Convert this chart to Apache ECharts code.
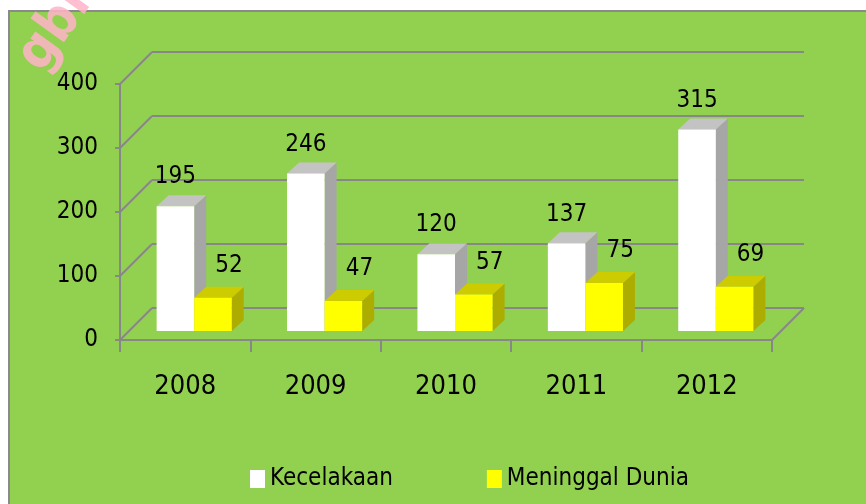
<!DOCTYPE html>
<html>
<head>
<meta charset="utf-8">
<script src="https://cdn.jsdelivr.net/npm/echarts@6/dist/echarts.min.js"></script>
<style>
  html, body { margin: 0; padding: 0; background: #fff; }
  #bg {
    position: absolute; left: 8px; top: 10px; right: 0; bottom: 0;
    background: #92d050; border-left: 2px solid #8a8a8a; border-top: 2px solid #8a8a8a;
  }
  #chart { position: absolute; left: 0; top: 0; width: 866px; height: 504px; }
</style>
</head>
<body>
<div id="bg"></div>
<div id="chart"></div>
<script>
  // data
  const YEARS = ['2008', '2009', '2010', '2011', '2012'];
  const KECELAKAAN = [195, 246, 120, 137, 315];
  const MENINGGAL = [52, 47, 57, 75, 69];
  const Y_TICKS = [0, 100, 200, 300, 400];

  const FONT = "'Liberation Sans Narrow', 'DejaVu Sans Condensed', sans-serif";
  const LINE = '#878787';
  const DEPTH = 32;          // back wall offset
  const SHIFT_X = 9, SHIFT_Y = 9;   // bars sit a little behind the front edge
  const BOX_DX = 12, BOX_DY = 11;   // box depth
  const BAR_RATIO = 0.288;

  const front = { left: 120, top: 84, right: 94, bottom: 164 };
  const back = {
    left: front.left + DEPTH, top: front.top - DEPTH,
    right: front.right - DEPTH, bottom: front.bottom + DEPTH,
  };

  function boxRenderer(side, cFront, cTop, cSide, labelDx, labelDy) {
    return function (params, api) {
      const i = api.value(0);
      const v = api.value(1);
      const band = api.size([1, 0])[0];
      const w = band * BAR_RATIO;
      const base = api.coord([i, 0]);
      const tip = api.coord([i, v]);
      const l = side === 0 ? base[0] - w + SHIFT_X : base[0] + SHIFT_X;
      const r = l + w;
      const b = base[1] - SHIFT_Y;
      const t = tip[1] - SHIFT_Y;
      return {
        type: 'group',
        children: [
          { type: 'polygon', shape: { points: [[r, t], [r + BOX_DX, t - BOX_DY], [r + BOX_DX, b - BOX_DY], [r, b]] }, style: { fill: cSide } },
          { type: 'polygon', shape: { points: [[l, t], [r, t], [r + BOX_DX, t - BOX_DY], [l + BOX_DX, t - BOX_DY]] }, style: { fill: cTop } },
          { type: 'rect', shape: { x: l, y: t, width: w, height: b - t }, style: { fill: cFront } },
          {
            type: 'text', x: (l + r) / 2 + labelDx, y: t - labelDy,
            style: { text: String(v), font: '24px ' + FONT, fill: '#000', align: 'center', verticalAlign: 'middle' },
          },
        ],
      };
    };
  }

  const chart = echarts.init(document.getElementById('chart'));
  chart.setOption({
    animation: false,
    backgroundColor: 'transparent',
    textStyle: { fontFamily: FONT },
    graphic: [
      {
        type: 'text', x: 8, y: 50, rotation: 0.95, z: 100,
        style: { text: 'gbr', font: 'bold 54px ' + FONT, fill: 'rgba(255,180,200,0.85)' },
      },
    ],
    legend: {
      left: 245, top: 462,
      itemWidth: 15, itemHeight: 18, itemGap: 94,
      icon: 'rect',
      textStyle: { fontSize: 24, color: '#000', fontFamily: FONT },
      data: ['Kecelakaan', 'Meninggal Dunia'],
    },
    grid: [
      Object.assign({ containLabel: false }, front),
      Object.assign({ containLabel: false }, back),
    ],
    xAxis: [
      {
        gridIndex: 0, type: 'category', data: YEARS,
        axisLine: { lineStyle: { color: LINE, width: 2 } },
        axisTick: { show: true, length: 12, lineStyle: { color: LINE, width: 2 } },
        axisLabel: { color: '#000', fontSize: 27, margin: 33, fontFamily: FONT },
        splitLine: { show: false },
      },
      { gridIndex: 1, type: 'category', data: YEARS, show: false },
    ],
    yAxis: [
      {
        gridIndex: 0, type: 'value', min: 0, max: 400, interval: 100,
        axisLine: { show: true, lineStyle: { color: LINE, width: 2 } },
        axisTick: { show: true, length: 5, lineStyle: { color: LINE, width: 2 } },
        axisLabel: { color: '#000', fontSize: 24, margin: 22, fontFamily: FONT },
        splitLine: { show: false },
      },
      {
        gridIndex: 1, type: 'value', min: 0, max: 400, interval: 100,
        axisLine: { show: false }, axisTick: { show: false }, axisLabel: { show: false },
        splitLine: { show: true, lineStyle: { color: LINE, width: 2 } },
      },
    ],
    series: [
      {
        // left wall and floor edges
        type: 'custom', xAxisIndex: 0, yAxisIndex: 0, silent: true,
        data: Y_TICKS.map(function (v) { return [0, v]; }),
        renderItem: function (params, api) {
          const cs = params.coordSys;
          const y = api.coord([0, api.value(1)])[1];
          const kids = [
            { type: 'line', shape: { x1: cs.x, y1: y, x2: cs.x + DEPTH, y2: y - DEPTH }, style: { stroke: LINE, lineWidth: 2 } },
          ];
          if (api.value(1) === 0) {
            kids.push({ type: 'line', shape: { x1: cs.x + cs.width, y1: y, x2: cs.x + cs.width + DEPTH, y2: y - DEPTH }, style: { stroke: LINE, lineWidth: 2 } });
          }
          return { type: 'group', children: kids };
        },
      },
      {
        name: 'Kecelakaan', type: 'custom', xAxisIndex: 0, yAxisIndex: 0,
        itemStyle: { color: '#ffffff' },
        data: KECELAKAAN.map(function (v, i) { return [i, v]; }),
        renderItem: boxRenderer(0, '#ffffff', '#c3c3c3', '#a6a6a6', 0, 29),
      },
      {
        name: 'Meninggal Dunia', type: 'custom', xAxisIndex: 0, yAxisIndex: 0,
        itemStyle: { color: '#ffff00' },
        data: MENINGGAL.map(function (v, i) { return [i, v]; }),
        renderItem: boxRenderer(1, '#ffff00', '#cccc00', '#adad00', 16, 32),
      },
    ],
  });
  window.addEventListener('resize', function () { chart.resize(); });
</script>
</body>
</html>
